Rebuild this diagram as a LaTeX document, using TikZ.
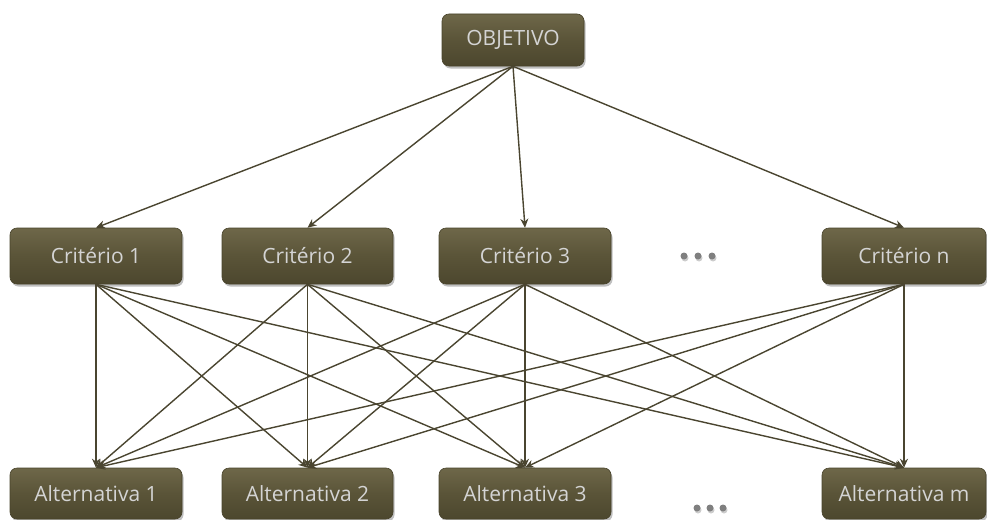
\documentclass[tikz,border=0pt]{standalone}
\usepackage{fontspec}
\setmainfont{Open Sans}
\usetikzlibrary{arrows.meta,shadows}
\definecolor{boxmid}{HTML}{5A5438}
\definecolor{boxtop}{HTML}{6E6749}
\definecolor{boxbot}{HTML}{4C472E}
\definecolor{boxedge}{HTML}{48432B}
\definecolor{txt}{HTML}{D4D4D4}
\definecolor{arr}{HTML}{4A4530}
\definecolor{dotc}{HTML}{7F7F7F}
\tikzset{
  hbox/.style={rounded corners=7pt, top color=boxtop, bottom color=boxbot, middle color=boxmid,
    draw=boxedge, line width=0.6pt, text=txt, font=\fontsize{21}{24}\selectfont,
    inner sep=0pt, drop shadow={shadow xshift=1.5pt, shadow yshift=-2.5pt, opacity=0.25, fill=black}},
  conn/.style={draw=arr, line width=1.4pt, -{Stealth[length=9pt,width=8pt]}},
  dotmark/.style={circle, fill=dotc, minimum size=7pt, inner sep=0pt,
    drop shadow={shadow xshift=1pt, shadow yshift=-2pt, opacity=0.2, fill=black}}
}
\begin{document}
\begin{tikzpicture}[x=1pt,y=-1pt]
\useasboundingbox (0,0) rectangle (987,519);
\node[hbox, minimum width=142pt, minimum height=52pt] (obj) at (513,40) {OBJETIVO};
\node[hbox, minimum width=172pt, minimum height=56pt] (c1) at (96,256) {Critério 1};
\node[hbox, minimum width=171pt, minimum height=56pt] (c2) at (307.5,256) {Critério 2};
\node[hbox, minimum width=172pt, minimum height=56pt] (c3) at (525,256) {Critério 3};
\node[hbox, minimum width=164pt, minimum height=56pt] (cn) at (904,256) {Critério n};
\node[hbox, minimum width=172pt, minimum height=51pt] (a1) at (96,493.5) {Alternativa 1};
\node[hbox, minimum width=171pt, minimum height=51pt] (a2) at (307.5,493.5) {Alternativa 2};
\node[hbox, minimum width=172pt, minimum height=51pt] (a3) at (525,493.5) {Alternativa 3};
\node[hbox, minimum width=164pt, minimum height=51pt] (am) at (904,493.5) {Alternativa m};
\node[dotmark] (p1) at (684,256) {};
\node[dotmark] (p2) at (698,256) {};
\node[dotmark] (p3) at (712,256) {};
\node[dotmark] (q1) at (697,508) {};
\node[dotmark] (q2) at (710,508) {};
\node[dotmark] (q3) at (723,508) {};
\foreach \c in {c1,c2,c3,cn}{\draw[conn] (obj.south) -- (\c.north);}
\foreach \c in {c1,c2,c3,cn}{
  \foreach \a in {a1,a2,a3,am}{\draw[conn] (\c.south) -- (\a.north);}
}
\end{tikzpicture}
\end{document}
